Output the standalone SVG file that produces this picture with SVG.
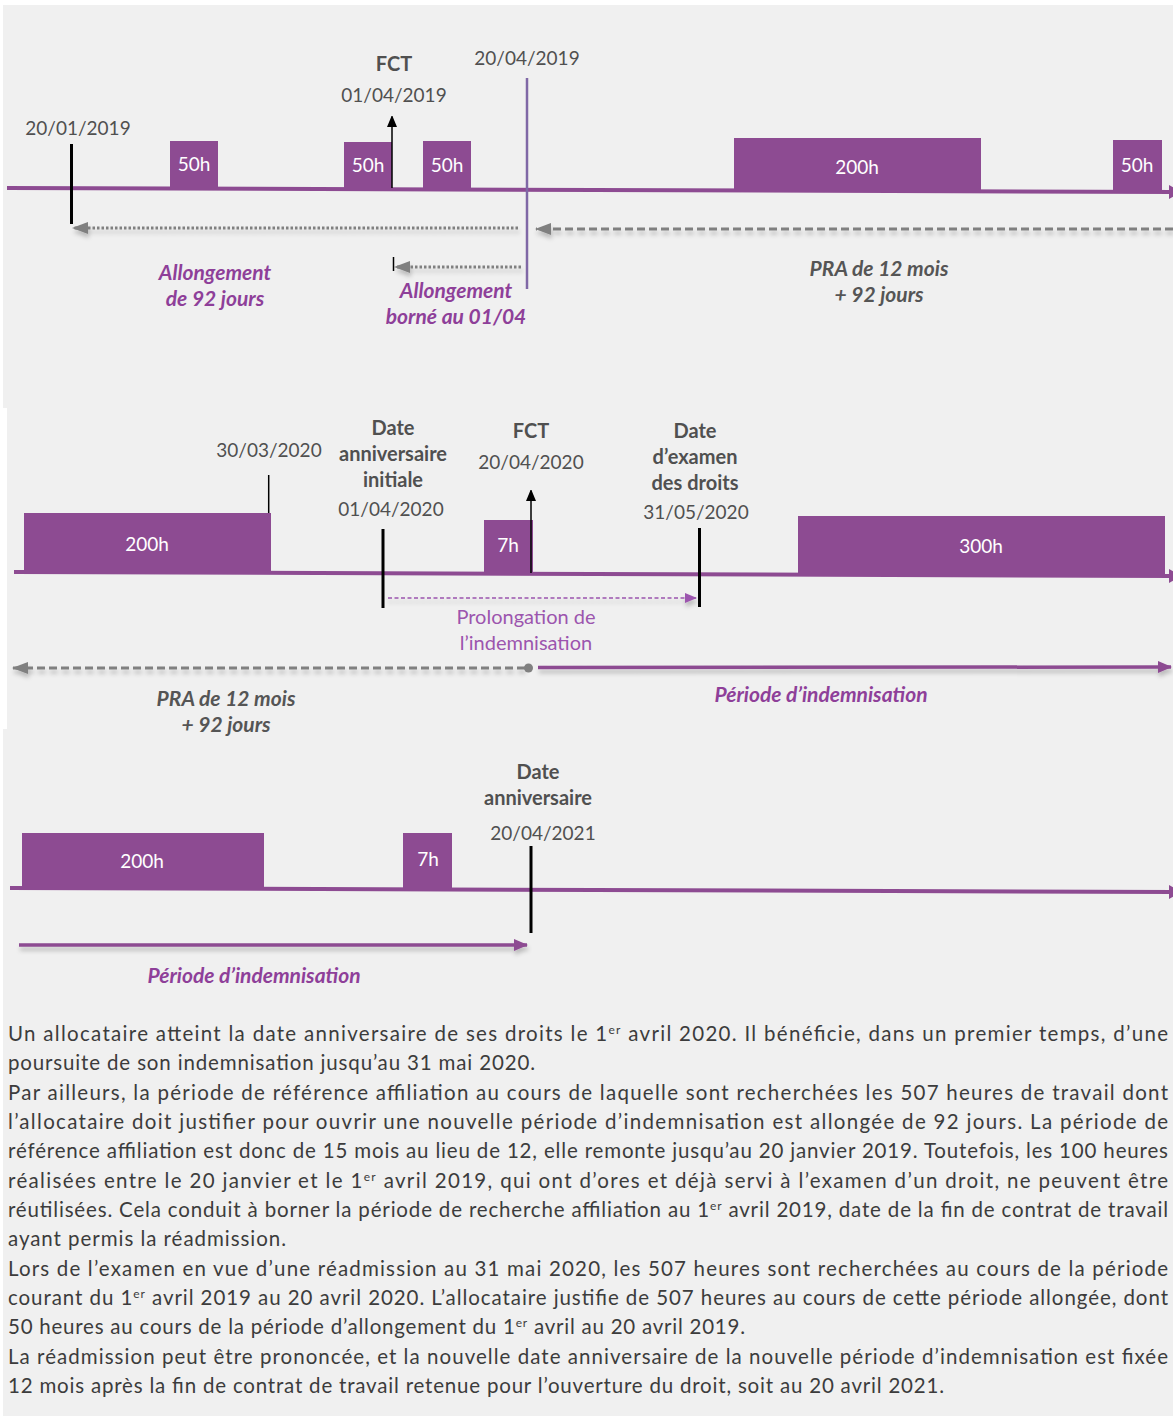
<svg xmlns="http://www.w3.org/2000/svg" width="1173" height="1418" viewBox="0 0 1173 1418">
<defs>
<style>
.bg{fill:#f0f0f0}
.box{fill:#8d4b92}
.bt{font-family:Lato,"Open Sans",sans-serif;font-size:19px;fill:#ffffff;text-anchor:middle}
.dt{font-family:Lato,"Open Sans",sans-serif;font-size:19px;fill:#505050;text-anchor:middle}
.bd{font-family:Lato,"Open Sans",sans-serif;font-size:20px;font-weight:700;fill:#505050;text-anchor:middle}
.pi{font-family:Lato,"Open Sans",sans-serif;font-size:21px;font-weight:700;font-style:italic;fill:#8e3f99;text-anchor:middle}
.gi{font-family:Lato,"Open Sans",sans-serif;font-size:21px;font-weight:700;font-style:italic;fill:#555555;text-anchor:middle}
.pr{font-family:Lato,"Open Sans",sans-serif;font-size:20px;fill:#9c55ae;text-anchor:middle}
.para{font-family:Lato,"Open Sans",sans-serif;font-size:20.5px;fill:#3c3c3c}
.tl{stroke:#8d4b92;stroke-width:4;fill:none}
.tick{stroke:#000000;stroke-width:3}
.thin{stroke:#000000;stroke-width:1.5}
.dot{stroke:#808080;stroke-width:3;stroke-dasharray:2.5 2;fill:none}
.dash{stroke:#808080;stroke-width:3;stroke-dasharray:8 4;fill:none}
.pdash{stroke:#9c55ae;stroke-width:1.5;stroke-dasharray:4 2.5;fill:none}
.parr{stroke:#8d4b92;stroke-width:3.5;fill:none}
</style>
<marker id="mTl" markerUnits="userSpaceOnUse" markerWidth="12" markerHeight="14" refX="11" refY="7" orient="auto"><path d="M0,0 L12,7 L0,14 z" fill="#8d4b92"/></marker>
<marker id="mBlk" markerUnits="userSpaceOnUse" markerWidth="10" markerHeight="12" refX="11" refY="5" orient="auto"><path d="M0,0 L12,5 L0,10 z" fill="#000000"/></marker>
<marker id="mGray" markerUnits="userSpaceOnUse" markerWidth="16" markerHeight="12" refX="15" refY="6" orient="auto"><path d="M0,0 L16,6 L0,12 z" fill="#808080"/></marker>
<marker id="mPur" markerUnits="userSpaceOnUse" markerWidth="14" markerHeight="12" refX="13" refY="6" orient="auto"><path d="M0,0 L14,6 L0,12 z" fill="#8d4b92"/></marker>
<marker id="mPur2" markerUnits="userSpaceOnUse" markerWidth="12" markerHeight="10" refX="11" refY="5" orient="auto"><path d="M0,0 L12,5 L0,10 z" fill="#9c55ae"/></marker>
<filter id="sh" filterUnits="userSpaceOnUse" x="0" y="0" width="1173" height="1418"><feDropShadow dx="1" dy="4" stdDeviation="2" flood-color="#000000" flood-opacity="0.22"/></filter>
</defs>

<rect width="1173" height="1418" fill="#ffffff"/>
<g id="background">
<rect class="bg" x="3" y="5" width="1170" height="403"/>
<rect class="bg" x="7" y="408" width="1166" height="321"/>
<rect class="bg" x="3" y="729" width="1170" height="687"/>
</g>

<!-- Section 1 -->
<g id="s1-timeline"><path class="tl" d="M7,188 L1180,192" marker-end="url(#mTl)"/></g>
<g id="s1-box1"><rect class="box" x="170" y="141" width="48" height="48"/><text class="bt" x="194" y="171">50h</text></g>
<g id="s1-box2"><rect class="box" x="344" y="142" width="48" height="47"/><text class="bt" x="368" y="172">50h</text></g>
<g id="s1-box3"><rect class="box" x="423" y="141" width="48" height="48"/><text class="bt" x="447" y="172">50h</text></g>
<g id="s1-box4"><rect class="box" x="734" y="138" width="247" height="53"/><text class="bt" x="857" y="174">200h</text></g>
<g id="s1-box5"><rect class="box" x="1113" y="140" width="49" height="51"/><text class="bt" x="1137" y="172">50h</text></g>
<g id="s1-date1"><text class="dt" x="78" y="135">20/01/2019</text></g>
<g id="s1-fct"><text class="bd" x="394" y="71">FCT</text><text class="dt" x="394" y="102">01/04/2019</text></g>
<g id="s1-date3"><text class="dt" x="527" y="65">20/04/2019</text></g>
<g id="s1-lab1"><text class="pi" x="215" y="280">Allongement</text><text class="pi" x="215" y="306">de 92 jours</text></g>
<g id="s1-lab2"><text class="pi" x="456" y="298">Allongement</text><text class="pi" x="456" y="324">borné au 01/04</text></g>
<g id="s1-lab3"><text class="gi" x="879" y="276">PRA de 12 mois</text><text class="gi" x="879" y="302">+ 92 jours</text></g>

<!-- Section 2 -->
<g id="s2-timeline"><path class="tl" d="M14,572 L1180,576" marker-end="url(#mTl)"/></g>
<g id="s2-box1"><rect class="box" x="24" y="513" width="247" height="59"/><text class="bt" x="147" y="551">200h</text></g>
<g id="s2-box2"><rect class="box" x="484" y="520" width="49" height="53"/><text class="bt" x="508" y="552">7h</text></g>
<g id="s2-box3"><rect class="box" x="798" y="516" width="367" height="60"/><text class="bt" x="981" y="553">300h</text></g>
<g id="s2-date1"><text class="dt" x="269" y="457">30/03/2020</text></g>
<g id="s2-anniv"><text class="bd" x="393" y="435">Date</text><text class="bd" x="393" y="461">anniversaire</text><text class="bd" x="393" y="487">initiale</text><text class="dt" x="391" y="516">01/04/2020</text></g>
<g id="s2-fct"><text class="bd" x="531" y="438">FCT</text><text class="dt" x="531" y="469">20/04/2020</text></g>
<g id="s2-exam"><text class="bd" x="695" y="438">Date</text><text class="bd" x="695" y="464">d’examen</text><text class="bd" x="695" y="490">des droits</text><text class="dt" x="696" y="519">31/05/2020</text></g>
<g id="s2-prol"><text class="pr" x="526" y="624">Prolongation de</text><text class="pr" x="526" y="650">l’indemnisation</text></g>
<g id="s2-pra"><text class="gi" x="226" y="706">PRA de 12 mois</text><text class="gi" x="226" y="732">+ 92 jours</text></g>
<g id="s2-periode"><text class="pi" x="821" y="702">Période d’indemnisation</text></g>

<!-- Section 3 -->
<g id="s3-timeline"><path class="tl" d="M10,888 L1180,892" marker-end="url(#mTl)"/></g>
<g id="s3-box1"><rect class="box" x="22" y="833" width="242" height="55"/><text class="bt" x="142" y="868">200h</text></g>
<g id="s3-box2"><rect class="box" x="403" y="833" width="49" height="55"/><text class="bt" x="428" y="866">7h</text></g>
<g id="s3-anniv"><text class="bd" x="538" y="779">Date</text><text class="bd" x="538" y="805">anniversaire</text><text class="dt" x="543" y="840">20/04/2021</text></g>
<g id="s3-periode"><text class="pi" x="254" y="983">Période d’indemnisation</text></g>

<!-- Connectors -->
<g id="connectors">
<line class="tick" x1="71.5" y1="144" x2="71.5" y2="224"/>
<line class="thin" x1="392" y1="188" x2="392" y2="116" marker-end="url(#mBlk)"/>
<line x1="527" y1="78" x2="527" y2="289" stroke="#8068a6" stroke-width="2.5"/>
<path class="dot" d="M518,228 L73,228" marker-end="url(#mGray)" filter="url(#sh)"/>
<path class="dash" d="M1173,229 L536,229" marker-end="url(#mGray)" filter="url(#sh)"/>
<path class="dot" d="M521,267 L395,267" marker-end="url(#mGray)" filter="url(#sh)"/>
<line class="thin" x1="393.5" y1="257" x2="393.5" y2="271"/>

<line class="thin" x1="268.7" y1="475" x2="268.7" y2="513"/>
<line class="tick" x1="383" y1="529" x2="383" y2="608"/>
<line class="thin" x1="531" y1="573" x2="531" y2="490" marker-end="url(#mBlk)"/>
<line class="tick" x1="699.5" y1="528" x2="699.5" y2="607"/>
<path class="pdash" d="M388,598 L696,598" marker-end="url(#mPur2)" filter="url(#sh)"/>
<path class="dash" d="M525,668 L13,668" marker-end="url(#mGray)" filter="url(#sh)"/>
<circle cx="528.5" cy="668" r="4.5" fill="#808080"/>
<path class="parr" d="M538,667.5 L1171,667" marker-end="url(#mPur)" filter="url(#sh)"/>

<line class="tick" x1="531" y1="846" x2="531" y2="933"/>
<path class="parr" d="M19,945 L527,945" marker-end="url(#mPur)" filter="url(#sh)"/>
</g>

<!-- Paragraph -->
<g id="paragraph" class="para">
<text x="8" y="1041" textLength="1160">Un allocataire atteint la date anniversaire de ses droits le 1<tspan font-size="12" dy="-7">er</tspan><tspan dy="7"> avril 2020. Il bénéficie, dans un premier temps, d’une</tspan></text>
<text x="8" y="1070.3" textLength="527">poursuite de son indemnisation jusqu’au 31 mai 2020.</text>
<text x="8" y="1099.7" textLength="1160">Par ailleurs, la période de référence affiliation au cours de laquelle sont recherchées les 507 heures de travail dont</text>
<text x="8" y="1129" textLength="1160">l’allocataire doit justifier pour ouvrir une nouvelle période d’indemnisation est allongée de 92 jours. La période de</text>
<text x="8" y="1158.3" textLength="1160">référence affiliation est donc de 15 mois au lieu de 12, elle remonte jusqu’au 20 janvier 2019. Toutefois, les 100 heures</text>
<text x="8" y="1187.7" textLength="1160">réalisées entre le 20 janvier et le 1<tspan font-size="12" dy="-7">er</tspan><tspan dy="7"> avril 2019, qui ont d’ores et déjà servi à l’examen d’un droit, ne peuvent être</tspan></text>
<text x="8" y="1217" textLength="1160">réutilisées. Cela conduit à borner la période de recherche affiliation au 1<tspan font-size="12" dy="-7">er</tspan><tspan dy="7"> avril 2019, date de la fin de contrat de travail</tspan></text>
<text x="8" y="1246.3" textLength="278">ayant permis la réadmission.</text>
<text x="8" y="1275.7" textLength="1160">Lors de l’examen en vue d’une réadmission au 31 mai 2020, les 507 heures sont recherchées au cours de la période</text>
<text x="8" y="1305" textLength="1160">courant du 1<tspan font-size="12" dy="-7">er</tspan><tspan dy="7"> avril 2019 au 20 avril 2020. L’allocataire justifie de 507 heures au cours de cette période allongée, dont</tspan></text>
<text x="8" y="1334.3" textLength="737">50 heures au cours de la période d’allongement du 1<tspan font-size="12" dy="-7">er</tspan><tspan dy="7"> avril au 20 avril 2019.</tspan></text>
<text x="8" y="1363.7" textLength="1160">La réadmission peut être prononcée, et la nouvelle date anniversaire de la nouvelle période d’indemnisation est fixée</text>
<text x="8" y="1393" textLength="936">12 mois après la fin de contrat de travail retenue pour l’ouverture du droit, soit au 20 avril 2021.</text>
</g>
</svg>
